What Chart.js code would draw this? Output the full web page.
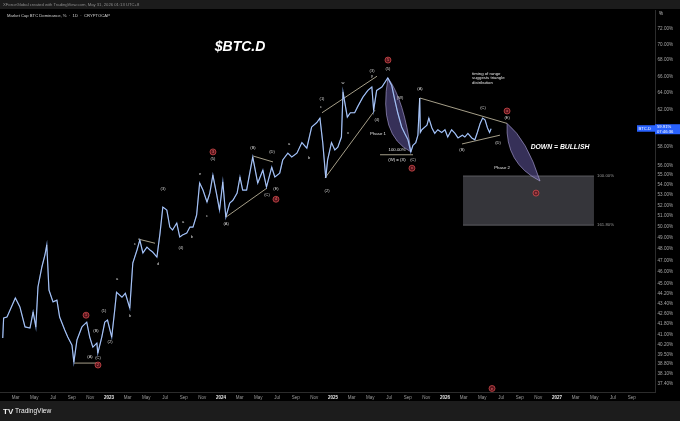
<!DOCTYPE html>
<html>
<head>
<meta charset="utf-8">
<script src="https://cdn.jsdelivr.net/npm/chart.js@4.4.1/dist/chart.umd.min.js"></script>
<style>
  html, body { margin: 0; padding: 0; background: #000; }
  canvas { display: block; }
</style>
</head>
<body>
<canvas id="chart" width="680" height="421"></canvas>
<script>
// BTC dominance (%), daily closes
const dates = [
  '2022-01-20','2022-01-23','2022-02-03','2022-02-28','2022-03-15','2022-04-01','2022-04-17','2022-04-27',
  '2022-05-06','2022-05-13','2022-05-26','2022-06-05','2022-06-11','2022-06-18','2022-07-01','2022-07-14',
  '2022-07-23','2022-08-09','2022-08-19','2022-09-02','2022-09-08','2022-09-18','2022-10-04','2022-10-20',
  '2022-10-30','2022-11-09','2022-11-22','2022-11-25','2022-12-08','2022-12-18','2022-12-27','2023-01-10',
  '2023-01-20','2023-01-26','2023-02-12','2023-02-22','2023-03-08','2023-03-18','2023-04-01','2023-04-10',
  '2023-04-20','2023-05-03','2023-05-13','2023-05-22','2023-06-05','2023-06-15','2023-06-24','2023-07-07',
  '2023-07-17','2023-07-26','2023-08-09','2023-08-19','2023-08-28','2023-09-11','2023-09-21','2023-10-01',
  '2023-10-13','2023-10-23','2023-11-03','2023-11-16','2023-11-25','2023-12-05','2023-12-18','2023-12-27',
  '2024-01-07','2024-01-17','2024-01-30','2024-02-09','2024-02-22','2024-03-02','2024-03-11','2024-03-24',
  '2024-04-13','2024-04-29','2024-05-16','2024-05-28','2024-06-14','2024-06-24','2024-07-10','2024-07-20',
  '2024-08-06','2024-08-19','2024-09-05','2024-09-21','2024-10-07','2024-10-23','2024-11-09','2024-11-19',
  '2024-11-28','2024-12-08','2024-12-14','2024-12-27','2025-01-07','2025-01-17','2025-01-29','2025-02-03',
  '2025-02-16','2025-02-25','2025-03-11','2025-03-21','2025-04-07','2025-04-23','2025-05-06','2025-05-12',
  '2025-05-22','2025-06-08','2025-06-27','2025-07-10','2025-07-20','2025-07-30','2025-08-12','2025-08-22',
  '2025-09-02','2025-09-11','2025-09-18','2025-09-27','2025-10-04','2025-10-10','2025-10-12','2025-10-17',
  '2025-11-03','2025-11-09','2025-11-19','2025-11-28','2025-12-08','2025-12-21','2026-01-01','2026-01-10',
  '2026-01-23','2026-02-03','2026-02-12','2026-02-25','2026-03-05','2026-03-15','2026-03-28','2026-04-07',
  '2026-04-15','2026-04-24','2026-05-02','2026-05-10','2026-05-18','2026-05-25','2026-05-30'
];
const dominance = [
  40.72, 42.25, 42.33, 43.84, 43.12, 41.56, 41.48, 42.72,
  41.56, 44.74, 46.42, 47.46, 48.35, 44.49, 43.53, 43.67,
  42.33, 41.32, 40.79, 40.19, 38.95, 40.57, 41.56, 41.93,
  40.79, 40.04, 40.34, 39.60, 40.79, 41.93, 42.09, 40.79,
  42.88, 44.30, 43.90, 44.22, 43.03, 46.76, 47.90, 48.79,
  47.64, 48.16, 47.90, 47.72, 47.28, 49.42, 51.85, 51.57,
  49.97, 49.70, 50.34, 49.06, 49.24, 49.42, 49.97, 49.97,
  51.09, 54.20, 53.50, 52.33, 53.20, 55.00, 53.00, 51.57,
  54.30, 50.90, 52.24, 52.50, 53.20, 54.80, 53.50, 53.50,
  56.86, 54.20, 55.50, 53.80, 55.80, 54.80, 55.20, 56.55,
  57.27, 56.86, 57.27, 58.40, 57.80, 60.10, 60.60, 61.10,
  58.40, 54.70, 56.55, 58.40, 57.60, 57.90, 59.00, 64.10,
  61.20, 61.70, 61.70, 62.40, 63.50, 64.30, 64.70, 62.00,
  64.30, 64.70, 65.80, 64.90, 63.20, 61.70, 60.10, 59.40,
  58.70, 57.40, 58.10, 58.40, 59.20, 63.40, 59.50, 59.80,
  60.30, 61.10, 60.00, 59.40, 59.80, 59.50, 59.80, 59.00,
  59.80, 59.40, 58.90, 59.20, 59.00, 59.40, 58.90, 58.70,
  59.50, 60.50, 61.10, 60.90, 60.00, 59.50, 59.91
];

// axis ticks: x in months counted from Jan 2022, y in percent
const xTickMonths = [2,4,6,8,10,12,14,16,18,20,22,24,26,28,30,32,34,36,38,40,42,44,46,48,50,52,54,56,58,60,62,64,66,68];
const monthNames = ['Jan','Feb','Mar','Apr','May','Jun','Jul','Aug','Sep','Oct','Nov','Dec'];
const yTicks = [72,70,68,66,64,62,60,58,56,55,54,53,52,51,50,49,48,47,46,45,44.2,43.4,42.6,41.8,41,40.2,39.5,38.8,38.1,37.4];

// drawings on the chart, in (month index, percent)
const trendLines = [
  [8.25, 38.88, 10.71, 38.88],
  [15.11, 48.88, 16.93, 48.5],
  [24.54, 50.9, 28.93, 53.7],
  [27.43, 56.97, 29.57, 56.35],
  [34.82, 61.7, 40.71, 66.0],
  [35.14, 54.7, 40.5, 62.0],
  [45.32, 63.4, 54.65, 60.5],
  [49.82, 58.25, 53.89, 59.2],
  [41.04, 57.1, 44.57, 57.1]
];
// top, bottom, left bulge control, right control
const phaseArcs = [
  [41.89, 65.8, 44.36, 57.4, 40.82, 59.2, 43.61, 63.2],
  [54.65, 60.5, 58.18, 54.4, 54.43, 56.2, 56.79, 58.7]
];
const targetBox = [49.93, 54.9, 63.96, 50.15];
const waveLabels = [
  [9.96, 39.31, '(A)'], [10.61, 41.24, '(B)'], [10.82, 39.24, '(C)'], [11.46, 42.8, '(1)'],
  [12.11, 40.42, '(2)'], [12.86, 45.4, 'a'], [14.25, 42.4, 'b'], [14.79, 48.43, 'c'],
  [17.25, 46.67, 'd'], [17.79, 53.6, '(3)'], [19.71, 48.07, '(4)'], [19.93, 50.42, 'a'],
  [20.89, 49.06, 'b'], [21.75, 55.1, 'e'], [22.5, 51.0, 'c'], [23.14, 56.65, '(5)'],
  [24.54, 50.26, '(A)'], [27.43, 57.8, '(B)'], [28.93, 53.0, '(C)'], [29.47, 57.4, '(D)'],
  [29.89, 53.6, '(E)'], [31.29, 58.25, 'a'], [33.43, 56.76, 'b'], [34.71, 62.4, 'c'],
  [34.82, 63.3, '(1)'], [35.36, 53.4, '(2)'], [37.07, 65.2, 'w'], [37.61, 59.4, 'x'],
  [40.18, 66.0, 'y'], [40.18, 66.6, '(3)'], [40.71, 60.9, '(4)'], [41.89, 66.87, '(5)'],
  [43.18, 63.4, '(W)'], [45.32, 64.45, '(A)'], [44.57, 56.55, '(C)'], [49.82, 57.6, '(B)'],
  [52.07, 62.2, '(C)'], [53.68, 58.4, '(D)'], [54.65, 61.1, '(E)']
];
const circledLabels = [
  [9.54, 42.47, '1'], [10.82, 38.74, '2'], [23.14, 57.4, '3'], [29.89, 52.6, '4'],
  [41.89, 68.0, '5'], [44.46, 55.7, 'x'], [54.65, 61.9, 'x'], [57.75, 53.2, 'x'], [53.04, 37.1, 'e']
];
const notes = [
  [40.82, 59.4, 'Phase 1'], [54.11, 55.7, 'Phase 2'],
  [42.86, 57.6, '100.00%'], [42.86, 56.55, '(W) = (X)']
];
const rangeNote = [50.9, 66.3, ['timing of range', 'suggests triangle', 'distribution']];
const boxLevels = [[64.29, 54.9, '100.00%'], [64.29, 50.15, '161.80%']];

function monthIndex(s) {
  const [y, mo, d] = s.split('-').map(Number);
  const dim = new Date(Date.UTC(y, mo, 0)).getUTCDate();
  return (y - 2022) * 12 + (mo - 1) + (d - 1) / dim;
}

const FONT = '"Liberation Sans", Arial, sans-serif';

const frame = {
  id: 'frame',
  beforeDraw(chart) {
    const c = chart.ctx;
    c.save();
    c.fillStyle = '#000';
    c.fillRect(0, 0, chart.width, chart.height);
    c.fillStyle = '#1c1c1c';
    c.fillRect(0, 0, chart.width, 9);
    c.fillRect(0, 401, chart.width, 20);
    c.restore();
  },
  afterDraw(chart) {
    const c = chart.ctx;
    const a = chart.chartArea;
    c.save();
    c.textBaseline = 'middle';
    c.font = '4.2px ' + FONT;
    c.fillStyle = '#8e8e8e';
    c.fillText('XForceGlobal created with TradingView.com, May 31, 2026 01:13 UTC+8', 3, 5);
    c.fillStyle = '#d2d2d2';
    c.fillText('Market Cap BTC Dominance, %  \u00b7  1D  \u00b7  CRYPTOCAP', 7, 15.5);
    // % header on the axis
    c.fillStyle = '#c8c8c8';
    c.font = '4.5px ' + FONT;
    c.fillText('%', a.right + 4, 14);
    // logo
    c.fillStyle = '#f0f0f0';
    c.font = 'bold 8px ' + FONT;
    c.fillText('TV', 3, 411.5);
    c.font = '6.6px ' + FONT;
    c.fillText('TradingView', 15, 411.5);
    // last value tags
    const last = dominance[dominance.length - 1];
    const yp = chart.scales.y.getPixelForValue(last);
    c.fillStyle = '#2962ff';
    c.fillRect(a.right, yp - 4.5, chart.width - a.right, 10);
    c.fillRect(a.right - 18, yp - 3.5, 18, 6.5);
    c.fillStyle = '#fff';
    c.font = '4.2px ' + FONT;
    c.fillText('BTC.D', a.right - 16.5, yp);
    c.fillText(last.toFixed(2) + '%', a.right + 2, yp - 1.8);
    c.fillText('07:46:36', a.right + 2, yp + 2.8);
    c.restore();
  }
};

const drawings = {
  id: 'drawings',
  beforeDatasetsDraw(chart) {
    const c = chart.ctx;
    const X = v => chart.scales.x.getPixelForValue(v);
    const Y = v => chart.scales.y.getPixelForValue(v);
    c.save();
    // target zone
    const bx = X(targetBox[0]), by = Y(targetBox[1]);
    const bw = X(targetBox[2]) - bx, bh = Y(targetBox[3]) - by;
    c.fillStyle = '#35353a';
    c.fillRect(bx, by, bw, bh);
    c.strokeStyle = '#5e5e63';
    c.lineWidth = 1;
    c.beginPath();
    c.moveTo(bx, by); c.lineTo(bx + bw, by);
    c.moveTo(bx, by + bh); c.lineTo(bx + bw, by + bh);
    c.stroke();
    // phase arcs
    phaseArcs.forEach(p => {
      c.beginPath();
      c.moveTo(X(p[0]), Y(p[1]));
      c.quadraticCurveTo(X(p[4]), Y(p[5]), X(p[2]), Y(p[3]));
      c.quadraticCurveTo(X(p[6]), Y(p[7]), X(p[0]), Y(p[1]));
      c.fillStyle = 'rgba(98, 88, 160, 0.55)';
      c.fill();
      c.strokeStyle = 'rgba(185, 175, 230, 0.8)';
      c.lineWidth = 0.7;
      c.stroke();
    });
    // trend lines
    c.strokeStyle = '#cfc7ab';
    c.lineWidth = 0.8;
    trendLines.forEach(l => {
      c.beginPath();
      c.moveTo(X(l[0]), Y(l[1]));
      c.lineTo(X(l[2]), Y(l[3]));
      c.stroke();
    });
    c.restore();
  },
  afterDatasetsDraw(chart) {
    const c = chart.ctx;
    const X = v => chart.scales.x.getPixelForValue(v);
    const Y = v => chart.scales.y.getPixelForValue(v);
    c.save();
    c.textAlign = 'center';
    c.textBaseline = 'middle';
    c.font = '4px ' + FONT;
    c.fillStyle = '#d8d8d8';
    waveLabels.forEach(l => c.fillText(l[2], X(l[0]), Y(l[1])));
    circledLabels.forEach(l => {
      c.beginPath();
      c.arc(X(l[0]), Y(l[1]), 3, 0, Math.PI * 2);
      c.fillStyle = 'rgba(110, 25, 35, 0.8)';
      c.fill();
      c.strokeStyle = '#e05252';
      c.lineWidth = 0.7;
      c.stroke();
      c.fillStyle = '#ff7a7a';
      c.font = '3.6px ' + FONT;
      c.fillText(l[2], X(l[0]), Y(l[1]) + 0.2);
    });
    c.font = '4.3px ' + FONT;
    c.fillStyle = '#e6e6e6';
    notes.forEach(n => c.fillText(n[2], X(n[0]), Y(n[1])));
    c.textAlign = 'left';
    c.fillStyle = '#9a9a9a';
    boxLevels.forEach(n => c.fillText(n[2], X(n[0]), Y(n[1])));
    c.fillStyle = '#e6e6e6';
    rangeNote[2].forEach((t, i) => c.fillText(t, X(rangeNote[0]), Y(rangeNote[1]) + i * 4.3));
    // headline texts
    c.textAlign = 'center';
    c.fillStyle = '#ffffff';
    c.font = 'italic bold 14px ' + FONT;
    c.fillText('$BTC.D', X(26.04), Y(69.7));
    c.font = 'italic bold 6.8px ' + FONT;
    c.fillText('DOWN = BULLISH', X(60.32), Y(57.9));
    c.restore();
  }
};

const points = dates.map((d, i) => ({ x: monthIndex(d), y: dominance[i] }));

new Chart(document.getElementById('chart'), {
  type: 'line',
  data: {
    datasets: [{
      // pale highlight over the blue body, like the candle bodies
      data: points,
      borderColor: 'rgba(235, 241, 255, 0.75)',
      borderWidth: 0.5,
      pointRadius: 0,
      tension: 0,
      order: 0
    }, {
      data: points,
      borderColor: '#7fa6ea',
      borderWidth: 1.2,
      pointRadius: 0,
      tension: 0,
      order: 1
    }]
  },
  options: {
    responsive: false,
    animation: false,
    layout: { padding: { top: 10, left: 0, right: 0, bottom: 0 } },
    plugins: { legend: { display: false }, tooltip: { enabled: false } },
    scales: {
      x: {
        type: 'linear',
        min: 0.32,
        max: 70.5,
        grid: { display: false, drawTicks: false },
        border: { color: '#2c2c2c' },
        afterBuildTicks: s => { s.ticks = xTickMonths.map(v => ({ value: v })); },
        afterFit: s => { s.height = 29; },
        ticks: {
          autoSkip: false,
          maxRotation: 0,
          padding: 3,
          color: c => (c.tick && c.tick.value % 12 === 0) ? '#e8e8e8' : '#9c9c9c',
          font: c => ({ family: FONT, size: 4.5, weight: (c.tick && c.tick.value % 12 === 0) ? 'bold' : 'normal' }),
          callback: v => v % 12 === 0 ? String(2022 + v / 12) : monthNames[v % 12]
        }
      },
      y: {
        type: 'logarithmic',
        position: 'right',
        min: 36.86,
        max: 74.58,
        grid: { display: false, drawTicks: false },
        border: { color: '#2c2c2c' },
        afterBuildTicks: s => { s.ticks = yTicks.map(v => ({ value: v })); },
        afterFit: s => { s.width = 25; },
        ticks: {
          autoSkip: false,
          padding: 2.5,
          color: '#a6a6a6',
          font: { family: FONT, size: 4.6 },
          callback: v => v.toFixed(2) + '%'
        }
      }
    }
  },
  plugins: [frame, drawings]
});
</script>
</body>
</html>
